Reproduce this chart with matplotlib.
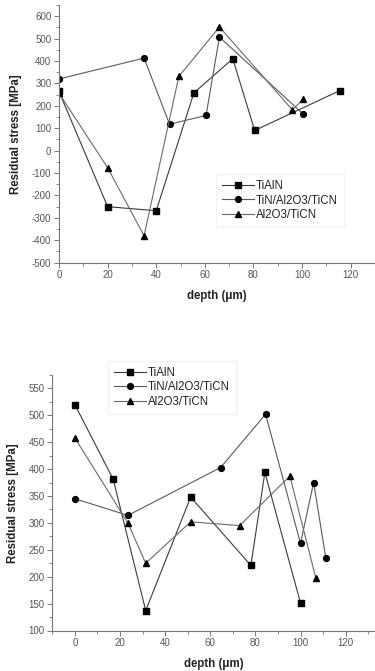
import matplotlib
matplotlib.use("Agg")
import matplotlib.pyplot as plt
from matplotlib.ticker import MultipleLocator

plt.rcParams['font.family'] = ['Liberation Sans', 'DejaVu Sans']
plt.rcParams['axes.unicode_minus'] = False

series_names = ["TiAlN", "TiN/Al2O3/TiCN", "Al2O3/TiCN"]

# Top chart
top_tialn_x = [0, 20, 40, 55.5, 71.5, 80.5, 115.5]
top_tialn_y = [264, -250, -268, 258, 410, 90, 268]
top_tin_x = [0, 35, 45.5, 60.5, 66, 100.5]
top_tin_y = [320, 413, 118, 157, 507, 163]
top_al_x = [0, 20, 35, 49.3, 66, 96, 100.5]
top_al_y = [256, -76, -380, 331, 552, 182, 230]

# Bottom chart
bot_tialn_x = [0, 17, 31.4, 51.3, 78, 84.2, 100]
bot_tialn_y = [520, 381, 137, 348, 221, 394, 151]
bot_tin_x = [0, 23.5, 64.6, 84.5, 100, 105.8, 111.2]
bot_tin_y = [345, 314, 403, 502, 262, 375, 235]
bot_al_x = [0, 23.5, 31.4, 51.3, 73, 95.3, 106.8]
bot_al_y = [458, 300, 225, 302, 295, 387, 197]

W, H = 375, 671
fig = plt.figure(figsize=(W / 100, H / 100), dpi=100)

def px_axes(left, right, top, bottom):
    return fig.add_axes([left / W, 1 - bottom / H, (right - left) / W, (bottom - top) / H])

ax1 = px_axes(59, 375, 5, 262.7)
ax2 = px_axes(52.3, 375, 375, 630.5)

markers = ['s', 'o', '^']
lcolors = ['#3a3a3a', '#5a5a5a', '#6a6a6a']

def draw(ax, data):
    for (x, y), m, c, name in zip(data, markers, lcolors, series_names):
        ax.plot(x, y, color=c, lw=0.8, marker=m, markersize=4.2,
                markerfacecolor='black', markeredgecolor='black', label=name)

def style(ax, xlim, ylim, ymaj, ymin):
    ax.set_xlim(*xlim)
    ax.set_ylim(*ylim)
    ax.xaxis.set_major_locator(MultipleLocator(20))
    ax.xaxis.set_minor_locator(MultipleLocator(10))
    ax.yaxis.set_major_locator(MultipleLocator(ymaj))
    ax.yaxis.set_minor_locator(MultipleLocator(ymin))
    for s in ['top', 'right']:
        ax.spines[s].set_visible(False)
    for s in ['left', 'bottom']:
        ax.spines[s].set_color('#777777')
        ax.spines[s].set_linewidth(0.8)
    ax.tick_params(which='major', direction='out', length=3.5, width=0.7,
                   color='#777777', labelcolor='#555555', labelsize=7, pad=2)
    ax.tick_params(which='minor', direction='out', length=2, width=0.6, color='#777777')
    ax.set_xlabel('depth (\u03bcm)', fontsize=8.3, fontweight='bold', color='#222222', labelpad=7)
    ax.set_ylabel('Residual stress [MPa]', fontsize=8.3, fontweight='bold', color='#222222', labelpad=7)

draw(ax1, [(top_tialn_x, top_tialn_y), (top_tin_x, top_tin_y), (top_al_x, top_al_y)])
style(ax1, (0, 130), (-500, 650), 100, 50)
ax1.set_yticks(range(-500, 601, 100))

draw(ax2, [(bot_tialn_x, bot_tialn_y), (bot_tin_x, bot_tin_y), (bot_al_x, bot_al_y)])
style(ax2, (-10, 133), (100, 575), 50, 25)
ax2.set_yticks(range(100, 551, 50))
ax2.set_xticks(range(0, 121, 20))

leg_kw = dict(loc='upper left', fontsize=8.3, handlelength=2.8, handletextpad=0.2,
              labelspacing=0.25, borderpad=0.5, fancybox=False, framealpha=1)
l1 = ax1.legend(bbox_to_anchor=(0.478, 0.367), **leg_kw)
l1.get_frame().set_edgecolor('#f2f2f2')
l2 = ax2.legend(bbox_to_anchor=(0.154, 1.078), **leg_kw)
l2.get_frame().set_edgecolor('#f2f2f2')
for l in (l1, l2):
    for t in l.get_texts():
        t.set_color('#222222')

fig.savefig('out.png', dpi=100)
